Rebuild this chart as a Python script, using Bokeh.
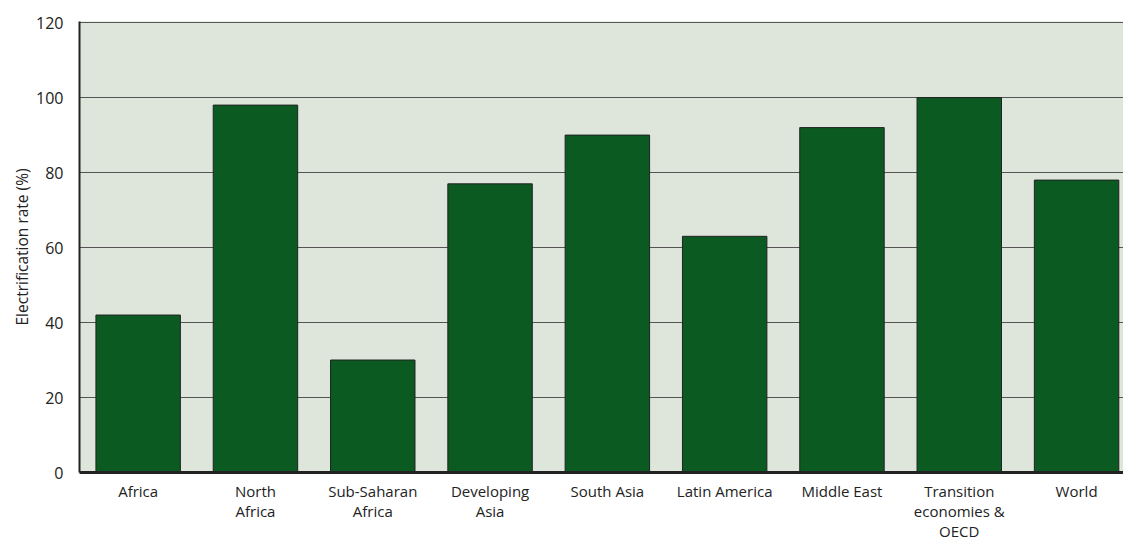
from bokeh.plotting import figure
from bokeh.models import Range1d, FixedTicker, ColumnDataSource
from bokeh.embed import file_html
from bokeh.resources import INLINE

categories = ["Africa", "North\nAfrica", "Sub-Saharan\nAfrica", "Developing\nAsia",
              "South Asia", "Latin America", "Middle East",
              "Transition\neconomies &\nOECD", "World"]
rates = [42, 98, 30, 77, 90, 63, 92, 100, 78]
y_ticks = [0, 20, 40, 60, 80, 100, 120]

xs = list(range(len(categories)))
src = ColumnDataSource(dict(x=xs, top=rates))

FONT = "Open Sans"

p = figure(width=1123, height=543, output_backend="svg", toolbar_location=None,
           x_range=Range1d(-0.5, 8.4), y_range=Range1d(0, 120.3),
           min_border_left=79, min_border_top=21, min_border_bottom=71, min_border_right=0)
p.background_fill_color = "#dee6dc"
p.border_fill_color = "white"
p.outline_line_color = None

p.vbar(x="x", top="top", width=0.72, bottom=0, source=src,
       fill_color="#0b5a22", line_color="#222222", line_width=1)

p.xgrid.grid_line_color = None
p.ygrid.ticker = FixedTicker(ticks=y_ticks)
p.ygrid.grid_line_color = "#555555"
p.ygrid.grid_line_width = 1

p.yaxis.ticker = FixedTicker(ticks=y_ticks)
p.yaxis.axis_label = "Electrification rate (%)"
p.yaxis.axis_label_text_font = FONT
p.yaxis.axis_label_text_font_size = "15.5px"
p.yaxis.axis_label_text_font_style = "normal"
p.yaxis.axis_label_text_color = "#222222"
p.yaxis.axis_label_standoff = 0
p.yaxis.major_label_text_font = FONT
p.yaxis.major_label_text_font_size = "16px"
p.yaxis.major_label_text_color = "#222222"
p.yaxis.major_label_standoff = 10
p.yaxis.major_tick_line_color = None
p.yaxis.minor_tick_line_color = None
p.yaxis.axis_line_color = "#222222"
p.yaxis.axis_line_width = 2

p.xaxis.ticker = FixedTicker(ticks=xs)
p.xaxis.major_label_overrides = {i: c for i, c in zip(xs, categories)}
p.xaxis.major_label_text_font = FONT
p.xaxis.major_label_text_font_size = "15px"
p.xaxis.major_label_text_line_height = 1.0
p.xaxis.major_label_text_color = "#222222"
p.xaxis.major_label_standoff = 2
p.xaxis.major_tick_line_color = None
p.xaxis.minor_tick_line_color = None
p.xaxis.axis_line_color = "#222222"
p.xaxis.axis_line_width = 3

open("out.html", "w").write(file_html(p, INLINE))
